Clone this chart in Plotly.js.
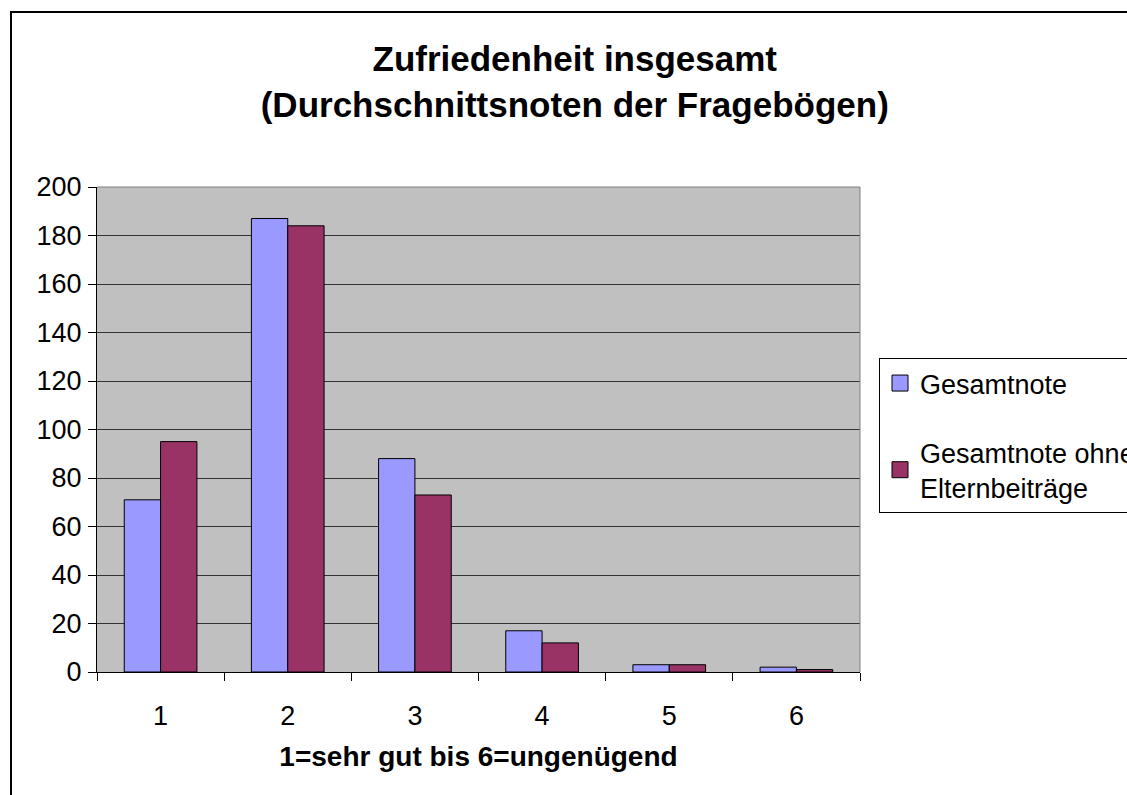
<!DOCTYPE html>
<html>
<head>
<meta charset="utf-8">
<script src="https://cdn.plot.ly/plotly-3.0.1.min.js"></script>
<style>html,body{margin:0;padding:0;background:#fff;}#chart{width:1127px;height:795px;}</style>
</head>
<body>
<div id="chart"></div>
<script>
const categories = ['1', '2', '3', '4', '5', '6'];
const gesamtnote = [71, 187, 88, 17, 3, 2];
const ohneEltern = [95, 184, 73, 12, 3, 1];
const seriesNames = ['Gesamtnote', 'Gesamtnote ohne<br>Elternbeiträge'];
const yTicks = [0, 20, 40, 60, 80, 100, 120, 140, 160, 180, 200];

const FONT = 'Liberation Sans, Arial, Helvetica, sans-serif';
const colors = ['#9999FF', '#993366'];

const traces = [
  {type: 'bar', x: categories, y: gesamtnote, name: seriesNames[0], showlegend: false,
   marker: {color: colors[0], line: {color: '#000', width: 1}}},
  {type: 'bar', x: categories, y: ohneEltern, name: seriesNames[1], showlegend: false,
   marker: {color: colors[1], line: {color: '#000', width: 1}}},
  {type: 'scatter', mode: 'markers', x: [null], y: [null], name: seriesNames[0], legendgroup: 'a',
   marker: {symbol: 'square', size: 16, color: colors[0], line: {color: '#000', width: 1}}},
  {type: 'scatter', mode: 'markers', x: [null], y: [null], name: seriesNames[1], legendgroup: 'b',
   marker: {symbol: 'square', size: 16, color: colors[1], line: {color: '#000', width: 1}}}
];

const layout = {
  width: 1127, height: 795,
  margin: {l: 97, r: 267, t: 187, b: 123, pad: 0, autoexpand: false},
  paper_bgcolor: '#ffffff',
  plot_bgcolor: '#C0C0C0',
  font: {family: FONT, size: 27, color: '#000'},
  barmode: 'group',
  bargap: 0.4286,
  bargroupgap: 0,
  title: {
    text: '<b>Zufriedenheit insgesamt<br>(Durchschnittsnoten der Fragebögen)</b>',
    font: {family: FONT, size: 35, color: '#000'},
    xref: 'container', yref: 'container',
    x: 0.510, xanchor: 'center',
    y: 1 - 71 / 795, yanchor: 'middle'
  },
  xaxis: {
    type: 'category',
    tickson: 'boundaries',
    ticks: 'outside', ticklen: 8, tickcolor: '#000', tickwidth: 1,
    showline: true, linecolor: '#000', linewidth: 1,
    showgrid: false, zeroline: false,
    tickfont: {family: FONT, size: 27},
    ticklabelstandoff: 20,
    title: {text: '<b>1=sehr gut bis 6=ungenügend</b>', font: {family: FONT, size: 28}, standoff: 15},
    fixedrange: true
  },
  yaxis: {
    range: [0, 200],
    tickvals: yTicks,
    ticks: 'outside', ticklen: 8, tickcolor: '#000', tickwidth: 1,
    showline: true, linecolor: '#000', linewidth: 1,
    showgrid: true, gridcolor: '#333333', gridwidth: 1,
    zeroline: false,
    tickfont: {family: FONT, size: 27},
    ticklabelstandoff: 1,
    fixedrange: true
  },
  legend: {
    x: (879 - 97) / 763, xanchor: 'left',
    y: (672 - 358) / 485, yanchor: 'top',
    bgcolor: '#ffffff', bordercolor: '#000', borderwidth: 1,
    font: {family: FONT, size: 27, color: '#000'},
    tracegroupgap: 31,
    traceorder: 'grouped'
  },
  shapes: [
    {type: 'line', xref: 'paper', yref: 'paper', x0: 0, x1: 1, y0: 1, y1: 1, line: {color: '#808080', width: 1}},
    {type: 'line', xref: 'paper', yref: 'paper', x0: 1, x1: 1, y0: 0, y1: 1, line: {color: '#808080', width: 1}},
    {type: 'rect', xref: 'paper', yref: 'paper', x0: (11 - 97) / 763, x1: 1.6, y0: -0.6, y1: (672 - 12) / 485,
     line: {color: '#000', width: 2}, fillcolor: 'rgba(0,0,0,0)', layer: 'below'}
  ]
};

Plotly.newPlot('chart', traces, layout, {displayModeBar: false, staticPlot: true});
</script>
</body>
</html>
